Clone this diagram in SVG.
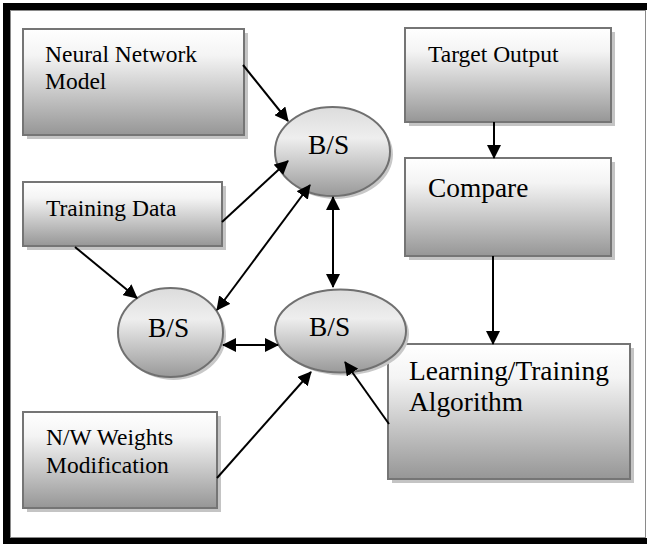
<svg xmlns="http://www.w3.org/2000/svg" width="647" height="544" viewBox="0 0 647 544">
<defs>
<linearGradient id="gBox" x1="0" y1="0" x2="0" y2="1">
<stop offset="0" stop-color="#ffffff"/>
<stop offset="0.25" stop-color="#f4f4f4"/>
<stop offset="1" stop-color="#969696"/>
</linearGradient>
<linearGradient id="gEll" x1="0" y1="0" x2="0" y2="1">
<stop offset="0" stop-color="#dcdcdc"/>
<stop offset="0.35" stop-color="#eeeeee"/>
<stop offset="1" stop-color="#999999"/>
</linearGradient>
<marker id="ah" markerUnits="userSpaceOnUse" markerWidth="14" markerHeight="14" refX="13" refY="7" orient="auto-start-reverse" viewBox="0 0 14 14">
<path d="M0,0 L14,7 L0,14 z" fill="#000"/>
</marker>
<style>
.box{fill:url(#gBox);stroke:#757575;stroke-width:2}
.shd{fill:#c4c4c4}
.ell{fill:url(#gEll);stroke:#707070;stroke-width:2}
.t{font-family:"Liberation Serif","Times New Roman",serif;font-size:23.5px;fill:#000}
.tb{font-family:"Liberation Serif","Times New Roman",serif;font-size:27.4px;fill:#000}
.c{stroke:#000;stroke-width:2;fill:none;marker-end:url(#ah)}
.cd{stroke:#000;stroke-width:2;fill:none;marker-end:url(#ah);marker-start:url(#ah)}
.fr{fill:#000}
</style>
</defs>
<rect x="0" y="0" width="647" height="544" fill="#fff"/>
<rect class="fr" x="3" y="3" width="644" height="7"/>
<rect class="fr" x="3" y="3" width="7" height="541"/>
<rect class="fr" x="3" y="538" width="644" height="6"/>
<rect x="10.5" y="10.5" width="635" height="527" fill="none" stroke="#8a8a8a" stroke-width="1"/>

<g id="nn-model">
<rect class="shd" x="27" y="33" width="221" height="106"/>
<rect class="box" x="23" y="29" width="221" height="106"/>
<text class="t" x="45" y="62">Neural Network</text>
<text class="t" x="45" y="89">Model</text>
</g>
<g id="training-data">
<rect class="shd" x="27" y="186" width="199" height="64"/>
<rect class="box" x="23" y="182" width="199" height="64"/>
<text class="t" x="46" y="216">Training Data</text>
</g>
<g id="nw-weights">
<rect class="shd" x="27" y="416" width="194" height="96"/>
<rect class="box" x="23" y="412" width="194" height="96"/>
<text class="t" x="46" y="445">N/W Weights</text>
<text class="t" x="46" y="473">Modification</text>
</g>
<g id="target-output">
<rect class="shd" x="409" y="32" width="206" height="94"/>
<rect class="box" x="405" y="28" width="206" height="94"/>
<text class="t" x="428" y="62">Target Output</text>
</g>
<g id="compare">
<rect class="shd" x="409" y="162" width="206" height="98"/>
<rect class="box" x="405" y="158" width="206" height="98"/>
<text class="tb" x="428" y="197">Compare</text>
</g>
<g id="learning">
<rect class="shd" x="392" y="348" width="242" height="135"/>
<rect class="box" x="388" y="344" width="242" height="135"/>
<text class="tb" x="409" y="380">Learning/Training</text>
<text class="tb" x="409" y="411">Algorithm</text>
</g>
<g id="bs-top">
<ellipse cx="335.5" cy="154.5" rx="57.5" ry="44.5" fill="#c8c8c8"/>
<ellipse class="ell" cx="332.5" cy="151.5" rx="57.5" ry="44.5"/>
<text class="tb" x="308" y="154">B/S</text>
</g>
<g id="bs-left">
<ellipse cx="173.5" cy="335.5" rx="52.5" ry="44.5" fill="#c8c8c8"/>
<ellipse class="ell" cx="170.5" cy="332.5" rx="52.5" ry="44.5"/>
<text class="tb" x="148" y="337">B/S</text>
</g>
<g id="bs-mid">
<ellipse cx="343.5" cy="334" rx="65.5" ry="41.5" fill="#c8c8c8"/>
<ellipse class="ell" cx="340.5" cy="331" rx="65.5" ry="41.5"/>
<text class="tb" x="309" y="336">B/S</text>
</g>

<g id="connectors">
<line class="c" x1="243" y1="65" x2="288" y2="121"/>
<line class="c" x1="222" y1="222" x2="288" y2="161"/>
<line class="c" x1="75" y1="247" x2="137" y2="298"/>
<line class="cd" x1="310" y1="185" x2="217" y2="310"/>
<line class="cd" x1="333" y1="197" x2="333" y2="287"/>
<line class="cd" x1="223" y1="345" x2="278" y2="345"/>
<line class="c" x1="217" y1="478" x2="311" y2="372"/>
<line class="c" x1="389" y1="424" x2="345" y2="362"/>
<line class="c" x1="494" y1="122" x2="494" y2="158"/>
<line class="c" x1="493" y1="256" x2="493" y2="344"/>
</g>
</svg>
